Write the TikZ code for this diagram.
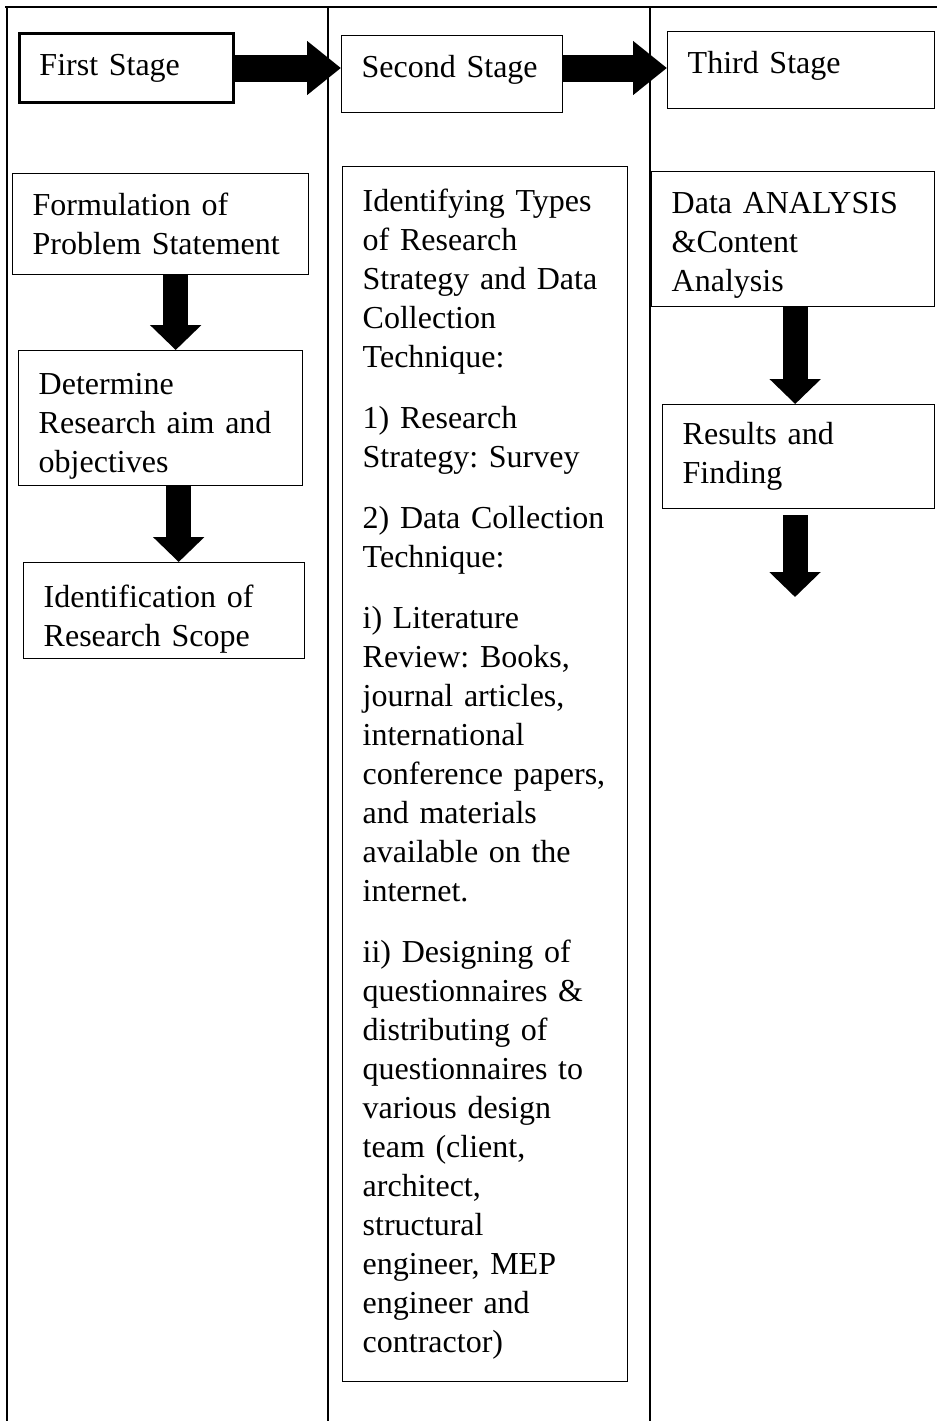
\documentclass[tikz,border=0pt]{standalone}
\usepackage{fontspec}
\setmainfont{Liberation Serif}
\usetikzlibrary{arrows.meta,positioning}

\begin{document}
\begin{tikzpicture}[x=0.5pt,y=-0.5pt,
        stagebox/.style={rectangle, draw, line width=0.7pt, anchor=north west, align=left, inner xsep=10pt, inner ysep=0pt, font=\fontsize{16}{19.5}\selectfont\frenchspacing},
        rightarrow/.style={line width=13.5pt, -{Triangle[width=26pt,length=17pt]}},
        downarrow/.style={line width=12.5pt, -{Triangle[width=25pt,length=12.5pt]}}]
        \useasboundingbox (0,0) rectangle (937,1421);
        \draw[line width=1.2pt] (5,7) -- (937,7);
        \draw[line width=1pt] (7,7) -- (7,1421);
        \draw[line width=1pt] (328,7) -- (328,1421);
        \draw[line width=1pt] (650,7) -- (650,1421);
        \node[stagebox, line width=1.5pt, text width=87pt, minimum height=34.5pt] at (18,32) (first) {First Stage};
        \node[stagebox, text width=90.5pt, minimum height=38.5pt, text depth=7.5pt] at (341,35) (second) {Second Stage};
        \node[stagebox, text width=113.5pt, minimum height=38.5pt, text depth=7.5pt] at (667,31) (third) {Third Stage};
        \node[stagebox, text width=128pt, minimum height=50.5pt] at (12,173) (form) {Formulation of\\Problem Statement};
        \node[stagebox, text width=122pt, minimum height=67.5pt, text height=18.6pt] at (18,350) (det) {Determine\\Research aim and\\objectives};
        \node[stagebox, text width=120.5pt, minimum height=48pt, text height=19.9pt] at (23,562) (ident) {Identification of\\Research Scope};
        \node[stagebox, text width=122.5pt, minimum height=607.5pt] at (342,166) (strat) {Identifying Types\\of Research\\Strategy and Data\\Collection\\Technique:\\[11pt]1) Research\\Strategy: Survey\\[11pt]2) Data Collection\\Technique:\\[11pt]i) Literature\\Review: Books,\\journal articles,\\international\\conference papers,\\and materials\\available on the\\internet.\\[11pt]ii) Designing of\\questionnaires \&\\distributing of\\questionnaires to\\various design\\team (client,\\architect,\\structural\\engineer, MEP\\engineer and\\contractor)};
        \node[stagebox, text width=121.5pt, minimum height=67.5pt, text height=16.6pt] at (651,171) (data) {Data ANALYSIS\\\&Content\\Analysis};
        \node[stagebox, text width=116pt, minimum height=52pt] at (662,404) (res) {Results and\\Finding};
        \coordinate (resend) at (795,597);
        \draw[rightarrow] (first.east) -- (first.east -| second.west);
        \draw[rightarrow] (second.east |- first.east) -- (third.west |- first.east);
        \draw[downarrow] ([xshift=7.5pt]form.south) -- ([xshift=7.5pt]form.south |- det.north);
        \draw[downarrow] ([xshift=9pt]det.south) -- ([xshift=9pt]det.south |- ident.north);
        \draw[downarrow] ([xshift=1pt]data.south) -- ([xshift=1pt]data.south |- res.north);
        \draw[downarrow, shorten <=3pt] (res.south -| resend) -- (resend);
      \end{tikzpicture}
\end{document}
